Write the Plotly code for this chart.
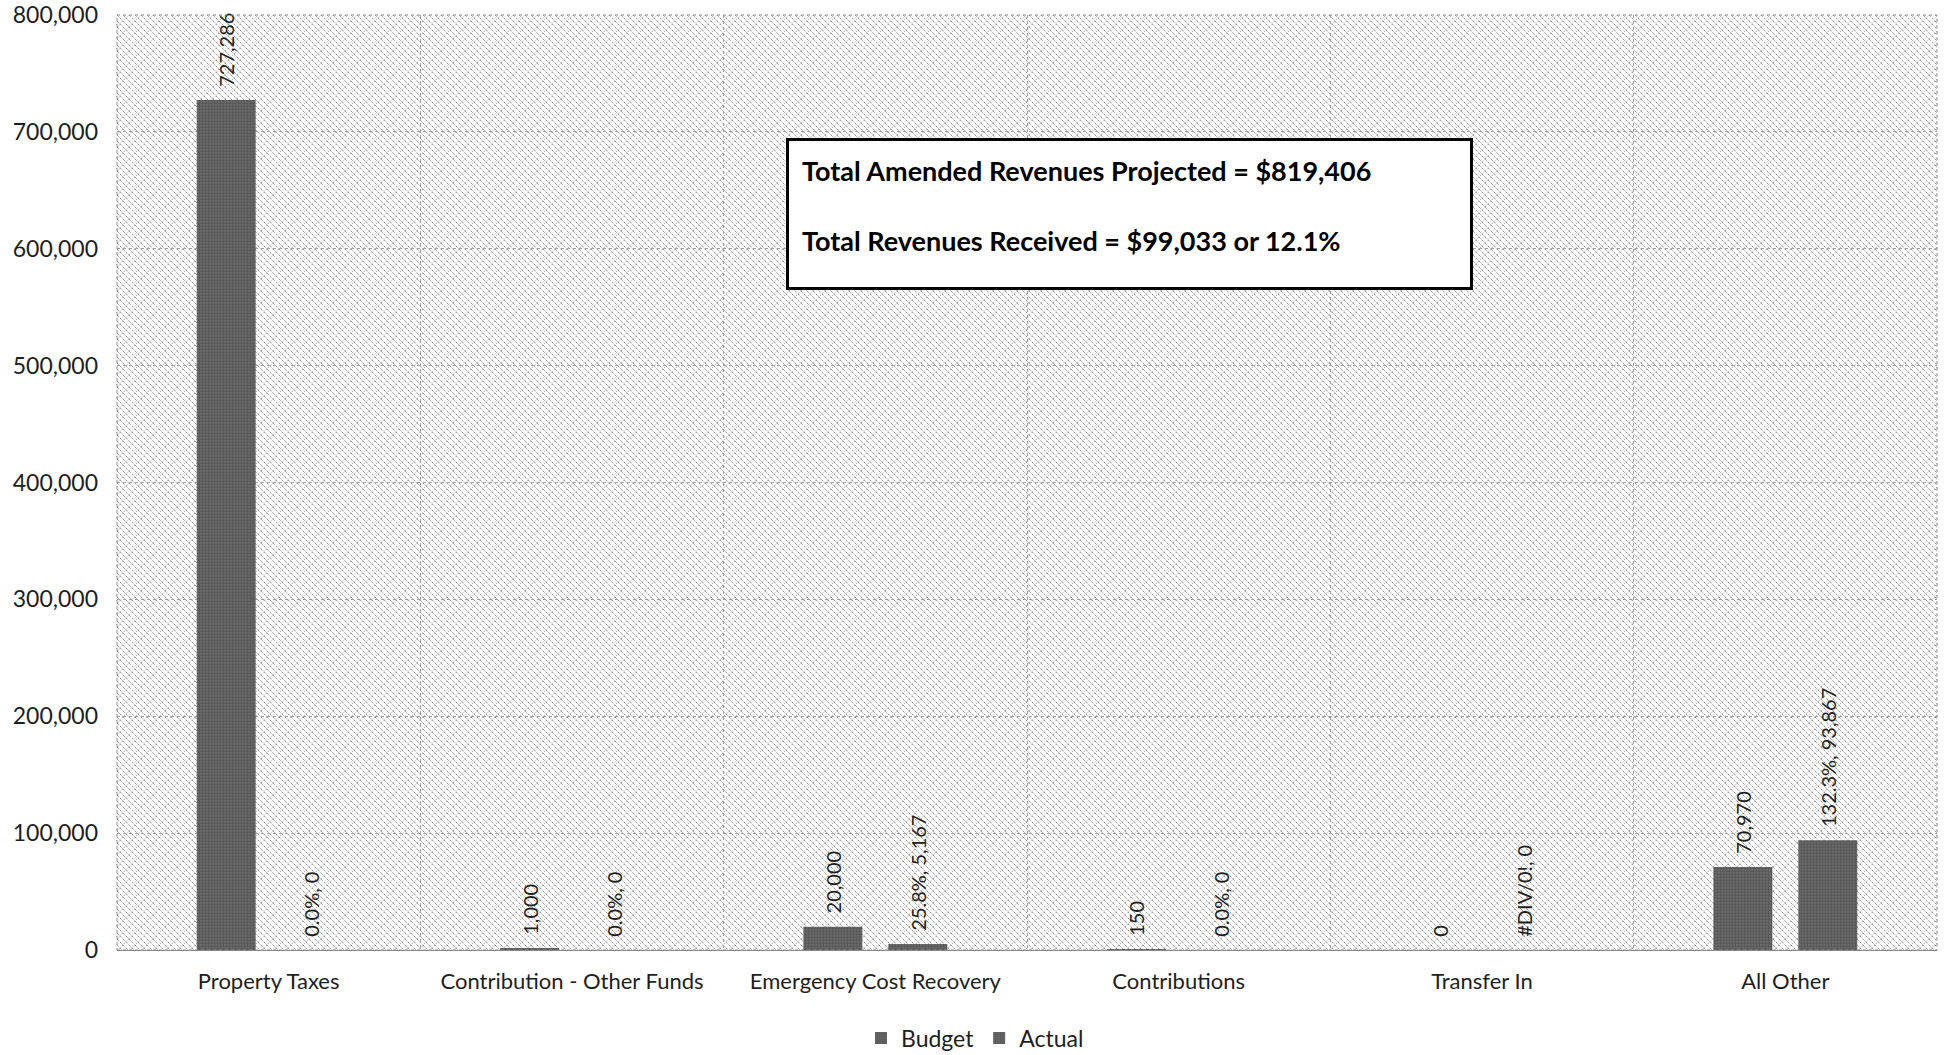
import base64
import plotly.graph_objects as go

# Revenue categories and amounts
categories = ["Property Taxes", "Contribution - Other Funds", "Emergency Cost Recovery",
              "Contributions", "Transfer In", "All Other"]
budget = [727286, 1000, 20000, 150, 0, 70970]
actual = [0, 0, 5167, 0, 0, 93867]
y_ticks = [0, 100000, 200000, 300000, 400000, 500000, 600000, 700000, 800000]

total_projected = 819406
total_received = 99033


def actual_label(a, b):
    pct = "#DIV/0!" if b == 0 else f"{a / b * 100:.1f}%"
    return f"{pct}, {a:,.0f}"


# a couple of non-breaking spaces keep the rotated labels clear of the bar tops
LEAD = "\u00a0" * 2
budget_text = [LEAD + f"{v:,.0f}" for v in budget]
actual_text = [LEAD + actual_label(a, b) for a, b in zip(actual, budget)]

W, H = 1949, 1055
L, R, T, B = 117, 12, 15, 105
PW, PH = W - L - R, H - T - B

FONT = "Lato, 'Open Sans', sans-serif"
TXT = "#1e1e1e"
BAR = "#5c5c5c"

# hatched plot-area background as an inline SVG
svg = f"""<svg xmlns='http://www.w3.org/2000/svg' width='{PW}' height='{PH}' viewBox='0 0 {PW} {PH}' preserveAspectRatio='none'>
<defs>
<pattern id='a' width='6' height='6' patternUnits='userSpaceOnUse'>
<path d='M0,0 L6,6 M-1,5 L1,7 M5,-1 L7,1' stroke='#6a6a6a' stroke-width='1' stroke-dasharray='1,1.2'/>
</pattern>
<pattern id='b' width='12' height='12' patternUnits='userSpaceOnUse'>
<path d='M0,12 L12,0 M-1,1 L1,-1 M11,13 L13,11' stroke='#969696' stroke-width='1' stroke-dasharray='1,1.5'/>
</pattern>
</defs>
<rect width='100%' height='100%' fill='#ffffff'/>
<rect width='100%' height='100%' fill='url(#b)'/>
<rect width='100%' height='100%' fill='url(#a)'/>
</svg>"""
bg_uri = "data:image/svg+xml;base64," + base64.b64encode(svg.encode()).decode()

bar_pattern = dict(shape=".", fgcolor="#3e3e3e", bgcolor="#6a6a6a", size=3, solidity=0.45)

fig = go.Figure()
for name, vals, labels in (("Budget", budget, budget_text), ("Actual", actual, actual_text)):
    fig.add_trace(go.Bar(
        name=name, x=categories, y=vals,
        marker=dict(color=BAR, line=dict(width=0), pattern=bar_pattern),
        text=labels, textposition="outside", textangle=-90, constraintext="none",
        cliponaxis=False, textfont=dict(family=FONT, size=20, color=TXT),
    ))

fig.add_annotation(
    xref="paper", yref="paper",
    x=(786 - L) / PW, y=1 - (138 - T) / PH, xanchor="left", yanchor="top",
    text=(f"<b>Total Amended Revenues Projected = ${total_projected:,.0f}</b><br><br>"
          f"<b>Total Revenues Received = ${total_received:,.0f} or "
          f"{total_received / total_projected * 100:.1f}%</b>"),
    align="left", valign="top", showarrow=False,
    width=655, height=120, borderpad=13, borderwidth=3,
    bordercolor="#000000", bgcolor="#ffffff",
    font=dict(family=FONT, size=27, color="#000000"),
)

# dotted outline around the plot area
fig.add_shape(type="rect", xref="paper", yref="paper", x0=0, y0=0, x1=1, y1=1,
              line=dict(color="#8a8a8a", width=1, dash="dot"), layer="above")

fig.add_layout_image(dict(
    source=bg_uri, xref="paper", yref="paper", x=0, y=1, sizex=1, sizey=1,
    xanchor="left", yanchor="top", sizing="stretch", layer="below",
))

fig.update_layout(
    width=W, height=H,
    margin=dict(l=L, r=R, t=T, b=B, autoexpand=False),
    paper_bgcolor="#ffffff", plot_bgcolor="rgba(0,0,0,0)",
    barmode="group", bargap=0.44, bargroupgap=0.306,
    font=dict(family=FONT, size=22, color=TXT),
    showlegend=True,
    legend=dict(orientation="h", x=(975 - L) / PW, xanchor="center",
                y=-(1038 - (T + PH)) / PH, yanchor="middle",
                font=dict(family=FONT, size=23, color=TXT), itemwidth=30,
                bgcolor="rgba(0,0,0,0)"),
    xaxis=dict(
        type="category", tickson="boundaries", showgrid=True,
        gridcolor="#a0a0a0", griddash="dot", gridwidth=1,
        ticks="", showline=False, ticklabelstandoff=16,
        tickfont=dict(family=FONT, size=22, color=TXT),
    ),
    yaxis=dict(
        range=[0, 800000], tickvals=y_ticks, tickformat=",.0f",
        showgrid=True, gridcolor="#a0a0a0", griddash="dot", gridwidth=1,
        zeroline=True, zerolinecolor="#8a8a8a", zerolinewidth=1,
        ticks="", showline=False, ticklabelstandoff=18,
        tickfont=dict(family=FONT, size=23, color=TXT),
    ),
)

fig.write_html("out.html")
